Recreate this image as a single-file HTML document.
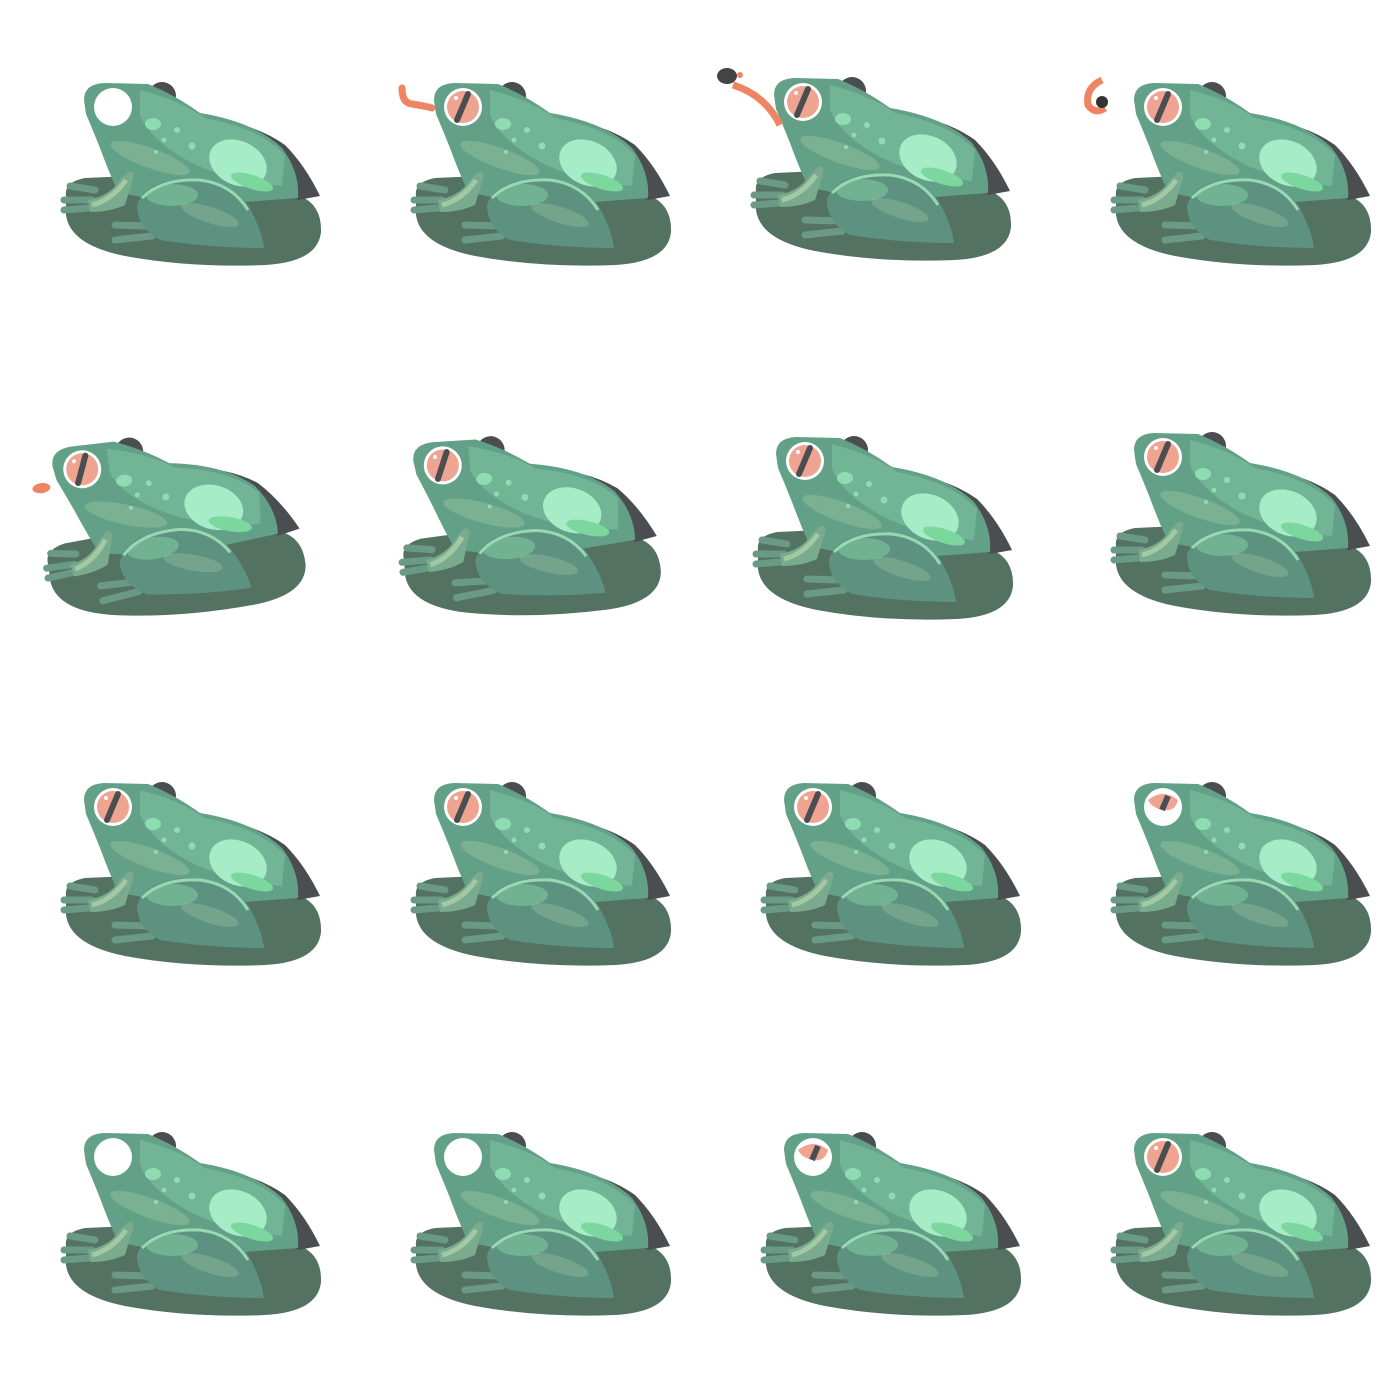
<!DOCTYPE html>
<html><head><meta charset="utf-8"><style>html,body{margin:0;padding:0;background:#fff}svg{display:block}</style></head>
<body>
<svg width="1400" height="1400" viewBox="0 0 1400 1400" xmlns="http://www.w3.org/2000/svg">
<defs>
<g id="frog">
  <path d="M66,196 Q64,182 85,178 L130,176 Q200,185 300,196 Q322,205 321,232 Q318,262 265,265 Q190,268 125,256 Q70,245 66,215 Z" fill="#537262"/>
  <path d="M195,118 Q250,120 285,145 Q305,165 320,196 L298,200 Z" fill="#4b4e50"/>
  <circle cx="162" cy="96" r="14" fill="#4b4e50"/>
  <path d="M84,100 Q84,84 104,83 L148,84 Q175,95 200,113 Q255,122 282,148 Q300,172 298,198 L205,205 Q150,200 118,192 Q108,170 100,148 Q92,128 86,114 Z" fill="#62a087"/>
  <path d="M140,90 Q180,100 205,118 Q260,128 285,155 L282,186 Q230,182 190,162 Q150,140 140,115 Z" fill="#72b496"/>
  <ellipse cx="150" cy="158" rx="42" ry="10" transform="rotate(20 150 158)" fill="#a9d0a8" opacity="0.35"/>
  <ellipse cx="238" cy="163" rx="30" ry="22" transform="rotate(25 238 163)" fill="#a6ecc6"/>
  <ellipse cx="252" cy="182" rx="22" ry="7" transform="rotate(18 252 182)" fill="#7cd79f"/>
  <ellipse cx="153" cy="124" rx="8" ry="6" fill="#8fdcb3"/>
  <circle cx="177" cy="130" r="3" fill="#8fdcb3"/>
  <circle cx="192" cy="146" r="3.5" fill="#8fdcb3"/>
  <circle cx="164" cy="140" r="2.5" fill="#8fdcb3"/>
  <circle cx="156" cy="152" r="2" fill="#8fdcb3"/>
  <path d="M115,225 L150,226 M115,240 L152,236" stroke="#6a9a86" stroke-width="7" stroke-linecap="round" fill="none"/>
  <path d="M137,205 Q145,180 190,178 Q228,180 248,205 Q262,230 264,248 Q210,248 160,240 Q137,228 137,205 Z" fill="#5e9280"/>
  <ellipse cx="172" cy="195" rx="26" ry="11" fill="#71b293"/>
  <path d="M142,198 Q162,178 200,180 Q232,184 248,210" stroke="#98d9b3" stroke-width="3" fill="none"/>
  <ellipse cx="210" cy="215" rx="30" ry="8" transform="rotate(18 210 215)" fill="#a9d0a8" opacity="0.3"/>
  <path d="M70,186 L95,190 M64,200 L92,200 M64,210 L88,208" stroke="#6a9a86" stroke-width="7" stroke-linecap="round" fill="none"/>
  <path d="M88,200 Q110,196 120,180 L128,172 Q136,170 132,182 L125,205 Q110,212 90,212 Z" fill="#7aab8e"/>
  <path d="M92,205 Q112,200 126,180" stroke="#b4d6ad" stroke-width="5" fill="none" opacity="0.7"/>
</g>
<g id="eye-pink">
  <circle cx="113" cy="107" r="19" fill="#ffffff"/>
  <circle cx="113" cy="107" r="16" fill="#eea491"/>
  <path d="M118,94 L107,120" stroke="#4b4e50" stroke-width="6" stroke-linecap="round"/>
  <circle cx="106" cy="98" r="2" fill="#fff"/>
</g>
<g id="eye-white"><circle cx="113" cy="107" r="19" fill="#ffffff"/></g>
<g id="eye-half">
  <circle cx="113" cy="107" r="19" fill="#ffffff"/>
  <path d="M98,100 Q113,88 128,100 Q125,112 113,110 Q102,108 98,100 Z" fill="#eea491"/>
  <path d="M118,96 L112,110" stroke="#4b4e50" stroke-width="6"/>
</g>
</defs>

<g><use href="#frog"/><use href="#eye-white"/></g>
<g transform="translate(350,0)"><use href="#frog"/><use href="#eye-pink"/>
  <path d="M52,88 Q52,103 62,104 Q75,106 82,108" stroke="#ef8463" stroke-width="7" fill="none" stroke-linecap="round"/></g>
<g transform="translate(700,0)"><g transform="translate(-10,-5)"><use href="#frog"/><use href="#eye-pink"/></g>
  <path d="M33,85 Q65,95 80,125" stroke="#ef8463" stroke-width="7" fill="none"/>
  <ellipse cx="27" cy="76" rx="10" ry="8" fill="#444"/>
  <circle cx="40" cy="75" r="3" fill="#ef8463"/></g>
<g transform="translate(1050,0)"><use href="#frog"/><use href="#eye-pink"/>
  <path d="M52,80 Q35,88 38,105 Q45,115 55,108" stroke="#ef8463" stroke-width="7" fill="none"/>
  <circle cx="52" cy="102" r="6" fill="#333"/></g>

<g transform="translate(-15,342) rotate(-8 250 230)"><use href="#frog"/><use href="#eye-pink"/>
  <ellipse cx="70" cy="120" rx="9" ry="5" fill="#ef8463"/></g>
<g transform="translate(340,346) rotate(-5 250 230)"><use href="#frog"/><use href="#eye-pink"/></g>
<g transform="translate(700,350)"><g transform="translate(-8,4)"><use href="#frog"/><use href="#eye-pink"/></g></g>
<g transform="translate(1050,350)"><use href="#frog"/><use href="#eye-pink"/></g>

<g transform="translate(0,700)"><use href="#frog"/><use href="#eye-pink"/></g>
<g transform="translate(350,700)"><use href="#frog"/><use href="#eye-pink"/></g>
<g transform="translate(700,700)"><use href="#frog"/><use href="#eye-pink"/></g>
<g transform="translate(1050,700)"><use href="#frog"/><use href="#eye-half"/></g>

<g transform="translate(0,1050)"><use href="#frog"/><use href="#eye-white"/></g>
<g transform="translate(350,1050)"><use href="#frog"/><use href="#eye-white"/></g>
<g transform="translate(700,1050)"><use href="#frog"/><use href="#eye-half"/></g>
<g transform="translate(1050,1050)"><use href="#frog"/><use href="#eye-pink"/></g>
</svg>
</body></html>
